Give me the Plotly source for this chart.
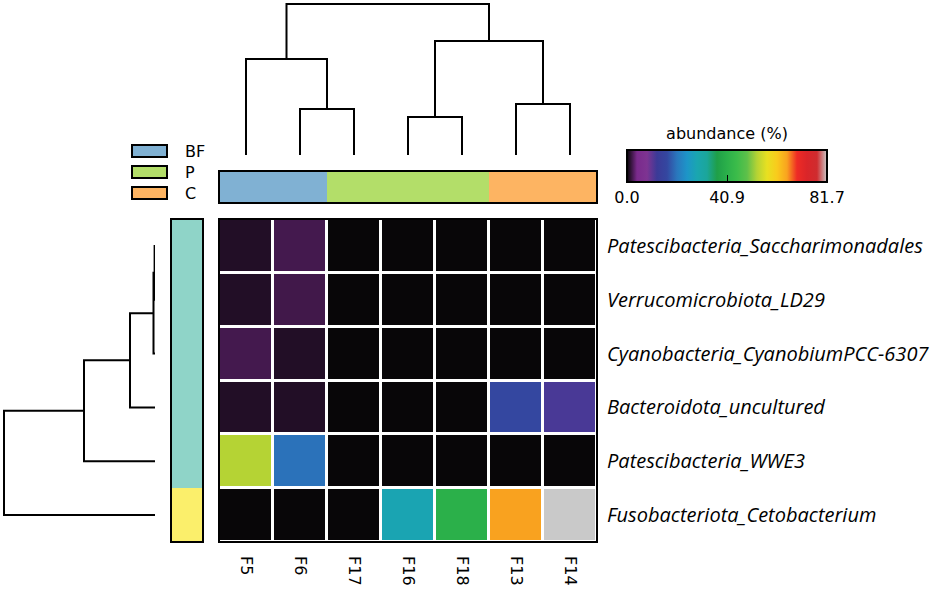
import plotly.graph_objects as go

# ---------------- data ----------------
samples = ["F5", "F6", "F17", "F16", "F18", "F13", "F14"]
taxa = [
    "Patescibacteria_Saccharimonadales",
    "Verrucomicrobiota_LD29",
    "Cyanobacteria_CyanobiumPCC-6307",
    "Bacteroidota_uncultured",
    "Patescibacteria_WWE3",
    "Fusobacteriota_Cetobacterium",
]
abundance = [
    [1.0, 2.2, 0.1, 0.1, 0.1, 0.1, 0.1],
    [1.0, 2.1, 0.1, 0.1, 0.1, 0.1, 0.1],
    [2.2, 1.0, 0.1, 0.1, 0.1, 0.1, 0.1],
    [1.0, 1.0, 0.1, 0.1, 0.1, 16.3, 11.4],
    [53.1, 20.0, 0.1, 0.1, 0.1, 0.1, 0.1],
    [0.1, 0.1, 0.1, 28.2, 40.9, 65.4, 81.7],
]
zmax_val = 81.7
cbar_tickvals = [0.0, 40.85, 81.7]
cbar_ticktext = ["0.0", "40.9", "81.7"]

group_names = ["BF", "P", "C"]
group_colors = ["#80b1d3", "#b3de69", "#fdb462"]
sample_group = [0, 0, 1, 1, 1, 2, 2]

cluster_colors = ["#8fd4c8", "#fbef6b"]
taxon_cluster = [0, 0, 0, 0, 0, 1]

# scipy-like linkage: (child_a, child_b, height); leaves 0..n-1, new nodes n..
col_linkage = [(1, 2, 46), (0, 7, 96), (3, 4, 38), (5, 6, 51), (9, 10, 114), (8, 11, 151)]
row_linkage = [(0, 1, 0.4), (6, 2, 1.5), (7, 3, 25), (8, 4, 71), (9, 5, 151)]

# muted nipy_spectral-like colorscale
cs_colors = ["#050505", "#7a2a8c", "#7e3492", "#3b3a97", "#3447a0", "#2a77bd",
             "#1d95c8", "#1aa6b0", "#1ba69a", "#1f9f48", "#2bb04a", "#3cbc4a",
             "#5ec04a", "#b5d334", "#e8e021", "#f9cb1c", "#f9a31f", "#ee2b25",
             "#da2529", "#cf2c2f", "#c9c9c9"]
colorscale = [[i / (len(cs_colors) - 1), c] for i, c in enumerate(cs_colors)]

W, H = 935, 589


def px_x(p):
    return p / W


def px_y(p):
    return 1 - p / H


def dendro_lines(linkage, n):
    pos = {i: float(i) for i in range(n)}
    hgt = {i: 0.0 for i in range(n)}
    ps, hs = [], []
    for k, (a, b, h) in enumerate(linkage):
        node = n + k
        ps += [pos[a], pos[a], pos[b], pos[b], None]
        hs += [hgt[a], h, h, hgt[b], None]
        pos[node] = (pos[a] + pos[b]) / 2
        hgt[node] = h
    return ps, hs


HX = [px_x(219), px_x(597)]
HY = [px_y(542), px_y(219)]

fig = go.Figure()

# main heatmap
fig.add_trace(go.Heatmap(
    z=abundance, x=list(range(len(samples))), y=list(range(len(taxa))),
    colorscale=colorscale, zmin=0, zmax=zmax_val, xgap=3, ygap=3,
    xaxis="x", yaxis="y",
    colorbar=dict(
        orientation="h", x=px_x(727), xanchor="center",
        y=px_y(131), yanchor="top",
        len=200, lenmode="pixels", thickness=32, thicknessmode="pixels",
        outlinecolor="black", outlinewidth=2, xpad=0, ypad=0,
        title=dict(text="abundance (%)", side="top",
                   font=dict(family="DejaVu Sans", size=16, color="black")),
        tickvals=cbar_tickvals, ticktext=cbar_ticktext,
        ticks="inside", ticklen=8, tickcolor="black", tickwidth=1,
        tickfont=dict(family="DejaVu Sans", size=16, color="black"),
    ),
))

# top dendrogram
cx, ch = dendro_lines(col_linkage, len(samples))
fig.add_trace(go.Scatter(x=cx, y=ch, mode="lines", line=dict(color="black", width=2),
                         xaxis="x2", yaxis="y2", hoverinfo="skip", showlegend=False))
# left dendrogram
rp, rh = dendro_lines(row_linkage, len(taxa))
fig.add_trace(go.Scatter(x=rh, y=rp, mode="lines", line=dict(color="black", width=2),
                         xaxis="x3", yaxis="y3", hoverinfo="skip", showlegend=False))

# column annotation bar
ng = len(group_colors)
gscale = []
for i, c in enumerate(group_colors):
    gscale += [[i / ng, c], [(i + 1) / ng, c]]
fig.add_trace(go.Heatmap(z=[sample_group], x=list(range(len(samples))), y=[0],
                         colorscale=gscale, zmin=-0.5, zmax=ng - 0.5, showscale=False,
                         xaxis="x4", yaxis="y4", hoverinfo="skip"))
# row annotation bar
nc = len(cluster_colors)
cscale = []
for i, c in enumerate(cluster_colors):
    cscale += [[i / nc, c], [(i + 1) / nc, c]]
fig.add_trace(go.Heatmap(z=[[c] for c in taxon_cluster], x=[0], y=list(range(len(taxa))),
                         colorscale=cscale, zmin=-0.5, zmax=nc - 0.5, showscale=False,
                         xaxis="x5", yaxis="y5", hoverinfo="skip"))

hidden = dict(visible=False, showgrid=False, zeroline=False, fixedrange=True)

fig.update_layout(
    width=W, height=H, template="none",
    margin=dict(l=0, r=0, t=0, b=0),
    paper_bgcolor="white", plot_bgcolor="white",
    xaxis=dict(domain=HX, range=[-0.5, 6.5], tickvals=list(range(len(samples))),
               ticktext=samples, tickangle=90, side="bottom", showgrid=False,
               zeroline=False, showline=False, ticks="", automargin=False,
               ticklabelstandoff=13,
               tickfont=dict(family="DejaVu Sans", size=16, color="black")),
    yaxis=dict(domain=HY, range=[5.5, -0.5], tickvals=list(range(len(taxa))),
               ticktext=taxa, side="right", showgrid=False, zeroline=False,
               showline=False, ticks="", automargin=False, ticklabelstandoff=9,
               tickfont=dict(family="Open Sans", size=20, color="black", style="italic")),
    xaxis2=dict(domain=HX, range=[-0.5, 6.5], anchor="y2", **hidden),
    yaxis2=dict(domain=[px_y(155), 1], range=[0, 155], anchor="x2", **hidden),
    xaxis3=dict(domain=[0, px_x(155)], range=[155, 0], anchor="y3", **hidden),
    yaxis3=dict(domain=HY, range=[5.5, -0.5], anchor="x3", **hidden),
    xaxis4=dict(domain=HX, range=[-0.5, 6.5], anchor="y4", **hidden),
    yaxis4=dict(domain=[px_y(203), px_y(171)], range=[-0.5, 0.5], anchor="x4", **hidden),
    xaxis5=dict(domain=[px_x(171), px_x(203)], range=[-0.5, 0.5], anchor="y5", **hidden),
    yaxis5=dict(domain=HY, range=[5.5, -0.5], anchor="x5", **hidden),
)

shapes = []
for ax in ["", "4", "5"]:
    shapes.append(dict(type="rect", xref=f"x{ax} domain", yref=f"y{ax} domain",
                       x0=0, x1=1, y0=0, y1=1, line=dict(color="black", width=2),
                       fillcolor="rgba(0,0,0,0)", layer="above"))
annotations = []
for i, (name, col) in enumerate(zip(group_names, group_colors)):
    top = 145 + 21 * i
    shapes.append(dict(type="rect", xref="paper", yref="paper",
                       x0=px_x(132), x1=px_x(167), y0=px_y(top + 12), y1=px_y(top),
                       line=dict(color="black", width=2), fillcolor=col))
    annotations.append(dict(xref="paper", yref="paper", x=px_x(183), y=px_y(top + 6),
                            text=name, showarrow=False, xanchor="left", yanchor="middle",
                            font=dict(family="DejaVu Sans", size=16, color="black")))
fig.update_layout(shapes=shapes, annotations=annotations)

fig.write_html("out.html", config={"displayModeBar": False},
               post_script="document.body.style.margin='0';document.body.style.overflow='hidden';")
